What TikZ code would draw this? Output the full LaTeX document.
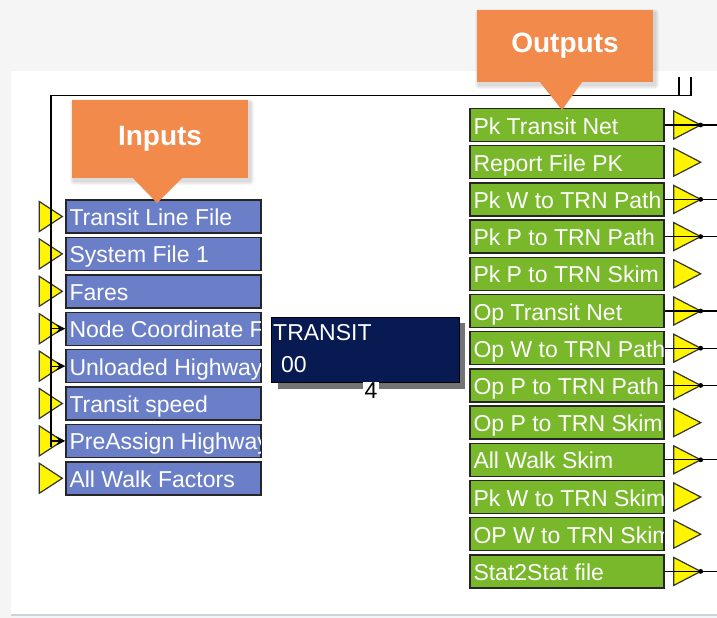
\documentclass[tikz,border=0pt]{standalone}
\usepackage{fontspec}
\setmainfont{Liberation Sans}
\usetikzlibrary{arrows.meta,calc}
\definecolor{inblue}{HTML}{6B7FC9}
\definecolor{outgreen}{HTML}{78B82A}
\definecolor{triyel}{HTML}{FFF500}
\definecolor{navybox}{HTML}{071A52}
\definecolor{callcol}{HTML}{F28A4C}
\definecolor{bgcol}{HTML}{F5F5F5}
\definecolor{panelline}{HTML}{CBD3DB}
\tikzset{
  inbox/.style={draw=black!85, line width=1.4pt, fill=inblue, minimum width=195pt, minimum height=33pt, inner sep=0pt},
  outbox/.style={draw=black!85, line width=1.4pt, fill=outgreen, minimum width=194pt, minimum height=33pt, inner sep=0pt},
  boxtext/.style={text=white, font=\fontsize{23}{23}\selectfont, inner sep=0pt},
  ytri/.style={fill=triyel, draw=black!80, line width=1.2pt, line join=miter},
  wire/.style={draw=black, line width=1.2pt},
  callout/.style={fill=callcol, text=white, font=\bfseries\fontsize{28}{28}\selectfont, inner sep=0pt},
}
\newcommand\mkbox[5]{%
  \node[#1] (#2) at ({#3},{#4}) {};
  \begin{scope}
    \clip ([shift={(1,1)}]#2.north west) rectangle ([shift={(-1,-1)}]#2.south east);
    \node[boxtext, anchor=base west] (#2t) at ($(#2.west)+(4,9)$) {#5};
  \end{scope}}
\begin{document}
\begin{tikzpicture}[x=1pt,y=-1pt]
\useasboundingbox (0,0) rectangle (717,618);
\fill[bgcol] (0,0) rectangle (717,618);
\fill[white] (11,71) rectangle (717,615);
\draw[panelline, line width=1.5pt] (11,615) -- (717,615);

% frame wires
\coordinate (tl) at (51,95.5);
\coordinate (tr) at (691,95.5);
\coordinate (trt) at (691,77);
\coordinate (tm) at (679,95.5);
\coordinate (tmt) at (679,77);
\coordinate (bl) at (51,447);
\draw[wire] (bl) -- (tl) -- (tr) -- (trt);
\draw[wire] (tm) -- (tmt);

% input boxes
\foreach \t [count=\i] in {Transit Line File,System File 1,Fares,Node Coordinate F,Unloaded Highway,Transit speed,PreAssign Highway,All Walk Factors}{
  \pgfmathsetmacro\yy{216.5+37.4*(\i-1)}
  \mkbox{inbox}{i\i}{163.5}{\yy}{\t}
  \draw[ytri] ([xshift=-26pt]i\i.west) ++(0,-15) -- ++(23,15) -- ++(-23,15) -- cycle;
}
\draw[wire] (tl) -- (bl);
\foreach \i in {4,5,7}{
  \draw[wire, -{Stealth[length=9pt,width=9pt]}] (i\i.west -| tl) -- (i\i.west);
}

% output boxes
\foreach \t [count=\i] in {Pk Transit Net,Report File PK,Pk W to TRN Path,Pk P to TRN Path,Pk P to TRN Skim,Op Transit Net,Op W to TRN Path,Op P to TRN Path,Op P to TRN Skim,All Walk Skim,Pk W to TRN Skim,OP W to TRN Skim,Stat2Stat file}{
  \pgfmathsetmacro\yy{125+37.2*(\i-1)}
  \mkbox{outbox}{o\i}{567}{\yy}{\t}
  \draw[ytri] ([xshift=9pt]o\i.east) ++(0,-14) -- ++(27,14) -- ++(-27,14) -- cycle;
}
\foreach \i in {1,3,4,6,7,8,10,13}{
  \coordinate (e\i) at (o\i.east -| 717,0);
  \draw[wire] (o\i.east) -- (e\i);
  \fill ($(o\i.east)+(36,0)$) circle (2.4);
}

% TRANSIT module
\fill[black!55] (278,323) rectangle (465,389);
\node[draw=black, line width=1pt, fill=navybox, minimum width=188pt, minimum height=65pt, inner sep=0pt] (mod) at (365,349.5) {};
\node[boxtext, anchor=base west] (modname) at (273,340) {TRANSIT};
\node[boxtext, anchor=base west] (modnum) at (281,372) {00};
\node[fill=white, inner sep=1.5pt, font=\fontsize{23}{23}\selectfont] (modcount) at (371,391) {4};

% callout shadows
\foreach \s in {1,2,3,4}{
  \fill[black, opacity=0.035, rounded corners=\s] ({72-\s+2},{100-\s+3}) rectangle ({248+\s+2},{178+\s+3});
  \fill[black, opacity=0.035, rounded corners=\s] ({477-\s+2},{10-\s+3}) rectangle ({653+\s+2},{82+\s+3});
}
% callouts
\node[callout, minimum width=176pt, minimum height=78pt] (incall) at (160,139) {Inputs};
\coordinate (intip) at (157,203);
\node[callout, minimum width=176pt, minimum height=72pt] (outcall) at (565,46) {Outputs};
\coordinate (outtip) at (562,110);
\fill[callcol] ([xshift=-27pt]incall.south) -- (intip) -- ([xshift=22pt]incall.south) -- cycle;
\fill[callcol] ([xshift=-25pt]outcall.south) -- (outtip) -- ([xshift=17pt]outcall.south) -- cycle;
\end{tikzpicture}
\end{document}
